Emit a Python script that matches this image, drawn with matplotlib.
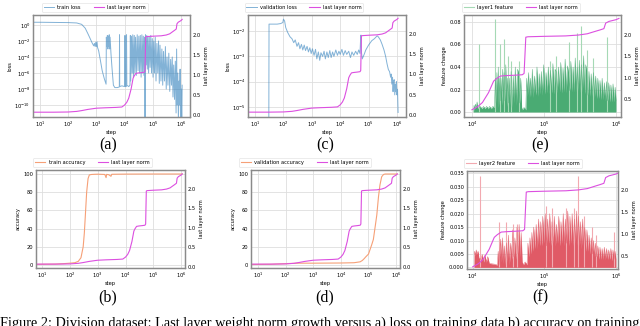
import matplotlib
matplotlib.use("Agg")
import matplotlib.pyplot as plt

# ---- values ----
norm_steps = [5, 10, 30, 100, 200, 300, 500, 1000, 2000, 5000, 8000, 1.0e4, 1.2e4, 1.4e4,
              1.7e4, 2.0e4, 2.2e4, 2.5e4, 3e4, 4e4, 5e4, 5.3e4, 5.6e4, 6e4, 1e5, 2e5, 3e5,
              4e5, 5e5, 6e5, 6.8e5, 7.2e5, 8e5, 1e6, 1.1e6]
norm_vals = [0.07, 0.07, 0.07, 0.075, 0.09, 0.11, 0.14, 0.17, 0.18, 0.19, 0.2, 0.25, 0.32, 0.42,
             0.65, 0.92, 0.98, 1.04, 1.05, 1.06, 1.07, 1.1, 1.95, 1.96, 1.97, 1.98, 2.0,
             2.03, 2.08, 2.12, 2.15, 2.28, 2.32, 2.36, 2.39]

train_loss_steps = [5, 10, 30, 100, 200, 300, 400, 500, 600, 700, 800, 850, 900, 950, 1000,
                    1050, 1100, 1200, 1400, 1600, 1900, 2200, 2250, 2350, 2450, 2550, 2650,
                    2750, 2850, 2950, 3050, 3300, 3600, 4000, 4500, 5500, 6500, 6600, 6700,
                    8000, 10000, 10300, 10600, 11500, 11700, 12000, 14000, 15500, 16000,
                    16500, 17500, 18500, 19500, 20500, 22000, 23000, 24500, 26000, 28000,
                    30000, 32000, 34000, 36000, 38500, 41000, 43500, 46000, 48500, 51000,
                    53000, 55000, 58000, 61000, 64000, 67000, 71000, 75000, 80000, 85000,
                    90000, 96000, 1.02e5, 1.08e5, 1.15e5, 1.22e5, 1.3e5, 1.4e5, 1.5e5,
                    1.6e5, 1.7e5, 1.8e5, 1.95e5, 2.1e5, 2.25e5, 2.4e5, 2.6e5, 2.8e5, 3.0e5,
                    3.2e5, 3.45e5, 3.7e5, 4.0e5, 4.3e5, 4.6e5, 4.9e5, 5.2e5, 5.5e5, 5.9e5,
                    6.3e5, 6.7e5, 7.0e5, 7.3e5, 7.7e5, 8.1e5, 8.5e5, 8.9e5, 9.3e5, 9.7e5,
                    1.02e6, 1.07e6, 1.1e6]
train_loss = [2.2, 2.2, 2.1, 2.0, 1.8, 1.2, 0.4, 0.08, 0.02, 6e-3, 2.5e-3, 5e-3, 2e-3, 7e-3, 2e-3,
              8e-3, 1.5e-3, 6e-4, 3e-5, 2e-6, 2e-7, 4e-8, 3e-2, 2e-3, 5e-2, 1e-3, 4e-2,
              2e-3, 6e-2, 1e-3, 3e-2, 2e-4, 3e-6, 3e-8, 1.5e-8, 1.5e-8, 1.8e-8, 6e-2, 2e-8,
              2.5e-8, 2e-8, 5e-2, 2e-8, 2e-8, 6e-2, 3e-8, 2e-8, 3e-8, 5e-2,
              1e-7, 4e-2, 1e-6, 6e-2, 3e-7, 5e-2, 1e-6, 3e-2, 5e-7, 6e-2,
              2e-6, 4e-2, 1e-6, 5e-2, 3e-7, 6e-2, 1e-6, 4e-2, 5e-7, 3e-2,
              1e-13, 6e-2, 1e-5, 5e-2, 3e-6, 4e-2, 1e-6, 3e-2, 5e-6, 5e-2,
              1e-6, 2e-2, 3e-7, 1e-2, 1e-6, 3e-2, 1e-7, 5e-3, 1e-6,
              1e-2, 5e-8, 3e-3, 1e-7, 1e-3, 3e-8, 5e-4, 1e-7, 2e-3, 1e-8,
              1e-4, 3e-8, 3e-4, 5e-9, 5e-5, 3e-8, 1e-4, 1e-9, 1e-5, 5e-10,
              3e-5, 1e-11, 1e-3, 1e-10, 1e-6, 1e-12, 1e-7, 1e-10, 3e-6, 1e-13,
              1e-8, 1e-13, 3e-8]

val_loss_steps = [30, 31, 40, 60, 80, 95, 100, 110, 120, 140, 170, 200, 230, 260, 300, 340, 380,
                  430, 480, 540, 600, 680, 760, 850, 950, 1050, 1200, 1350, 1500, 1700, 1900,
                  2100, 2400, 2700, 3000, 3400, 3800, 4300, 4800, 5400, 6000, 7000, 8000, 9000,
                  1e4, 1.15e4, 1.3e4, 1.5e4, 1.7e4, 2e4, 2.3e4, 2.6e4, 3e4, 3.5e4, 4e4, 4.5e4,
                  5e4, 5.2e4, 5.4e4, 5.6e4, 6e4, 7e4, 8e4, 1e5, 1.3e5, 1.6e5, 2e5, 2.2e5, 2.6e5,
                  3e5, 3.5e5, 4e5, 4.5e5, 5e5, 5.5e5, 6e5, 6.3e5, 6.6e5, 7e5, 7.3e5, 7.6e5, 8e5,
                  8.4e5, 8.8e5, 9.2e5, 9.6e5, 1e6, 1.05e6, 1.1e6]
val_loss = [1e-9, 0.019, 0.019, 0.019, 0.02, 0.022, 0.03, 0.025, 0.014, 0.009, 0.006, 0.005,
            0.0035, 0.0045, 0.0025, 0.0035, 0.002, 0.003, 0.0018, 0.0028, 0.0017, 0.0025,
            0.0015, 0.0022, 0.0013, 0.002, 0.0011, 0.0019, 0.0008, 0.0015, 0.0007, 0.0014,
            0.001, 0.0016, 0.0008, 0.0015, 0.0009, 0.0017, 0.0009, 0.0015, 0.001, 0.0018,
            0.0011, 0.0016, 0.0012, 0.0019, 0.0011, 0.0017, 0.0012, 0.0016, 0.0009, 0.0015,
            0.0011, 0.0016, 0.0012, 0.0018, 0.0013, 0.004, 0.007, 0.0015, 0.0008, 0.0012,
            0.0018, 0.0028, 0.0042, 0.005, 0.0065, 0.006, 0.0045, 0.003, 0.0018, 0.001,
            0.0005, 0.0003, 0.00025, 0.00015, 0.0002, 0.00008, 0.00015, 0.00004, 0.0001,
            0.00012, 0.00003, 0.00008, 0.00004, 0.0001, 0.00003, 0.00005, 0.000006]

train_acc_steps = [5, 10, 30, 60, 100, 150, 200, 250, 300, 330, 360, 400, 450, 500, 600, 800,
                   1000, 1800, 2000, 2100, 2500, 3000, 3200, 1e4, 1e5, 1.1e6]
train_acc = [0.5, 0.8, 1.0, 1.5, 2.0, 2.5, 4, 8, 20, 35, 55, 80, 95, 99, 99.5, 99.7,
             99.8, 99.5, 96, 99.6, 99.2, 97.5, 99.7, 99.9, 100, 100]

val_acc_steps = [5, 30, 100, 300, 1000, 1e4, 3e4, 5e4, 6e4, 7e4, 8e4, 1e5, 1.3e5, 1.5e5,
                 1.8e5, 2e5, 2.3e5, 2.6e5, 3e5, 3.5e5, 4e5, 1.1e6]
val_acc = [0.5, 0.8, 1.5, 2.0, 2.0, 2.2, 2.5, 3.5, 5, 7, 9, 12, 22, 28, 45, 55, 75, 88,
           97, 99.5, 100, 100]

l1_steps = [1.05e4, 1.07e4, 1.09e4, 1.12e4, 1.15e4, 1.18e4, 1.21e4, 1.26e4, 1.3e4, 1.38e4,
            1.45e4, 1.52e4, 1.6e4, 1.68e4, 1.76e4, 1.85e4, 1.95e4, 2.05e4, 2.12e4, 2.17e4,
            2.22e4, 2.27e4, 2.32e4, 2.37e4, 2.42e4, 2.47e4, 2.53e4, 2.6e4, 2.67e4, 2.74e4,
            2.8e4, 2.87e4, 2.95e4, 3.03e4, 3.12e4, 3.2e4, 3.3e4, 3.4e4, 3.5e4, 3.62e4,
            3.75e4, 3.88e4, 4.0e4, 4.15e4, 4.3e4, 4.45e4, 4.6e4, 4.75e4, 4.9e4, 5.0e4,
            5.3e4, 5.6e4, 5.75e4, 5.9e4, 6.1e4, 6.3e4, 6.5e4, 6.7e4, 6.9e4, 7.1e4, 7.4e4,
            7.7e4, 8.0e4, 8.3e4, 8.6e4, 8.9e4, 9.2e4, 9.5e4, 9.9e4, 1.03e5, 1.07e5, 1.11e5,
            1.15e5, 1.19e5, 1.23e5, 1.28e5, 1.33e5, 1.38e5, 1.43e5, 1.48e5, 1.53e5, 1.59e5,
            1.65e5, 1.71e5, 1.77e5, 1.84e5, 1.9e5, 1.97e5, 2.04e5, 2.12e5, 2.2e5, 2.28e5,
            2.36e5, 2.45e5, 2.54e5, 2.63e5, 2.72e5, 2.82e5, 2.9e5, 3.0e5, 3.1e5, 3.2e5,
            3.3e5, 3.42e5, 3.54e5, 3.67e5, 3.8e5, 3.94e5, 4.08e5, 4.22e5, 4.37e5, 4.53e5,
            4.69e5, 4.86e5, 5.03e5, 5.21e5, 5.4e5, 5.59e5, 5.79e5, 6.0e5, 6.21e5, 6.43e5,
            6.66e5, 6.9e5, 7.15e5, 7.4e5, 7.66e5, 7.93e5, 8.21e5, 8.5e5, 8.8e5, 9.1e5,
            9.42e5, 9.75e5, 1.0e6]
l1_vals = [0.0, 0.006, 0.003, 0.007, 0.004, 0.009, 0.003, 0.004, 0.005, 0.003,
           0.005, 0.003, 0.005, 0.003, 0.005, 0.003, 0.005, 0.004, 0.03, 0.008,
           0.035, 0.004, 0.04, 0.006, 0.03, 0.01, 0.03, 0.006, 0.038, 0.008,
           0.035, 0.01, 0.042, 0.005, 0.03, 0.008, 0.03, 0.006, 0.036, 0.004,
           0.032, 0.008, 0.04, 0.006, 0.038, 0.035, 0.008, 0.03, 0.004, 0.002,
           0.004, 0.002, 0.03, 0.014, 0.035, 0.013, 0.03, 0.014, 0.038, 0.013, 0.032,
           0.015, 0.04, 0.014, 0.034, 0.016, 0.036, 0.015, 0.042, 0.016, 0.035, 0.017,
           0.04, 0.016, 0.037, 0.017, 0.043, 0.016, 0.038, 0.036, 0.017, 0.04,
           0.018, 0.044, 0.017, 0.039, 0.018, 0.047, 0.017, 0.041, 0.035, 0.019,
           0.045, 0.018, 0.04, 0.018, 0.048, 0.018, 0.04, 0.019, 0.046, 0.017,
           0.042, 0.018, 0.05, 0.016, 0.042, 0.036, 0.015, 0.036, 0.014, 0.034,
           0.014, 0.035, 0.013, 0.032, 0.012, 0.03, 0.012, 0.028, 0.011, 0.03,
           0.011, 0.026, 0.01, 0.027, 0.01, 0.026, 0.009, 0.024, 0.009, 0.025,
           0.009, 0.022, 0.01]
l1_spike_steps = [1.25e4, 2.12e4, 2.42e4, 2.8e4, 3.12e4, 3.5e4, 4.45e4, 1.2e5, 1.48e5, 2.2e5,
                  2.9e5, 3.3e5, 3.94e5, 4.86e5, 7.4e5]
l1_spikes = [0.06, 0.083, 0.06, 0.065, 0.05, 0.045, 0.045, 0.045, 0.05, 0.062,
             0.07, 0.076, 0.055, 0.048, 0.067]

l2_steps = [1.05e4, 1.06e4, 1.09e4, 1.12e4, 1.15e4, 1.19e4, 1.22e4, 1.3e4, 1.36e4, 1.42e4,
            1.48e4, 1.55e4, 1.62e4, 1.7e4, 1.8e4, 2.0e4, 2.2e4, 2.27e4, 2.33e4, 2.45e4,
            2.52e4, 2.6e4, 2.68e4, 2.76e4, 2.85e4, 2.95e4, 3.05e4, 3.15e4, 3.25e4, 3.38e4,
            3.5e4, 3.62e4, 3.75e4, 3.88e4, 4.0e4, 4.15e4, 4.3e4, 4.45e4, 4.6e4, 4.75e4,
            4.9e4, 5.1e4, 5.4e4, 5.75e4, 5.9e4, 6.1e4, 6.3e4, 6.5e4, 6.7e4, 6.9e4, 7.1e4,
            7.4e4, 7.7e4, 8.0e4, 8.3e4, 8.6e4, 8.9e4, 9.2e4, 9.5e4, 9.9e4, 1.03e5, 1.07e5,
            1.11e5, 1.15e5, 1.19e5, 1.23e5, 1.28e5, 1.33e5, 1.38e5, 1.43e5, 1.48e5, 1.53e5,
            1.59e5, 1.65e5, 1.71e5, 1.77e5, 1.84e5, 1.9e5, 1.97e5, 2.04e5, 2.12e5, 2.2e5,
            2.28e5, 2.36e5, 2.45e5, 2.54e5, 2.63e5, 2.72e5, 2.82e5, 2.9e5, 3.0e5, 3.1e5,
            3.2e5, 3.3e5, 3.42e5, 3.54e5, 3.67e5, 3.8e5, 3.94e5, 4.08e5, 4.22e5, 4.37e5,
            4.53e5, 4.69e5, 4.86e5, 5.03e5, 5.21e5, 5.4e5, 5.59e5, 5.79e5, 6.0e5, 6.21e5,
            6.43e5, 6.66e5, 6.9e5, 7.15e5, 7.4e5, 7.66e5, 7.93e5, 8.21e5, 8.5e5, 8.8e5,
            9.1e5, 9.42e5, 9.75e5, 1.0e6]
l2_vals = [0.0, 0.006, 0.0045, 0.0065, 0.005, 0.006, 0.0035, 0.003, 0.0048, 0.002,
           0.0045, 0.002, 0.004, 0.0015, 0.0014, 0.0012, 0.0009, 0.006, 0.001, 0.0105,
           0.002, 0.011, 0.0015, 0.008, 0.001, 0.009, 0.002, 0.012, 0.001, 0.009,
           0.003, 0.014, 0.004, 0.011, 0.003, 0.015, 0.005, 0.016, 0.004, 0.013,
           0.002, 0.001, 0.002, 0.001, 0.009, 0.004, 0.011, 0.005, 0.013, 0.006, 0.015,
           0.007, 0.016, 0.007, 0.018, 0.008, 0.017, 0.008, 0.019, 0.009, 0.02, 0.008,
           0.018, 0.009, 0.02, 0.008, 0.017, 0.009, 0.019, 0.008, 0.016, 0.009,
           0.019, 0.008, 0.017, 0.009, 0.02, 0.008, 0.018, 0.009, 0.021, 0.008,
           0.019, 0.009, 0.02, 0.008, 0.018, 0.009, 0.021, 0.008, 0.019, 0.008,
           0.017, 0.007, 0.018, 0.007, 0.015, 0.006, 0.014, 0.006, 0.012, 0.005,
           0.011, 0.005, 0.01, 0.004, 0.009, 0.004, 0.008, 0.003, 0.0075, 0.003,
           0.007, 0.003, 0.0075, 0.003, 0.007, 0.003, 0.0065, 0.003, 0.007, 0.0025,
           0.0065, 0.003, 0.006, 0.003]
l2_spike_steps = [1.25e4, 2.3e4, 2.9e4, 3.6e4, 4.1e4, 1.05e5, 1.3e5, 2e5, 2.6e5, 3e5,
                  3.6e5, 4.6e5, 5.2e5, 9.5e5]
l2_spikes = [0.034, 0.017, 0.017, 0.016, 0.016, 0.023, 0.022, 0.022, 0.022, 0.034,
             0.019, 0.015, 0.012, 0.013]

caption = ("Figure 2: Division dataset: Last layer weight norm growth versus a) loss on "
           "training data b) accuracy on training")

BLUE = "#2f7fbc"
MAG = "#dc4fe0"
ORANGE = "#f6a077"
GREEN = "#4aab73"
GREEN_L = "#a5d9b5"
RED = "#e05a66"
RED_L = "#f2a9b0"
FS = 3.7

W, H = 640, 326
plt.rcParams["font.family"] = "DejaVu Sans"
plt.rcParams["font.size"] = FS
fig = plt.figure(figsize=(W / 100, H / 100), dpi=100)


def px_axes(x0, y0, x1, y1):
    return fig.add_axes([x0 / W, 1 - y1 / H, (x1 - x0) / W, (y1 - y0) / H])


def style(ax):
    ax.grid(True, color="#dedede", lw=0.6)
    ax.set_axisbelow(True)
    for s in ax.spines.values():
        s.set_color("#8a8a8a")
        s.set_linewidth(0.9)
    ax.tick_params(length=0, pad=2, labelsize=FS)


def add_norm(ax, steps, vals, ylim, yticks):
    ax2 = ax.twinx()
    ax2.plot(steps, vals, color=MAG, lw=0.8, label="last layer norm")
    ax2.set_ylim(*ylim)
    ax2.set_yticks(yticks)
    ax2.set_ylabel("last layer norm", fontsize=FS, labelpad=2)
    ax2.grid(False)
    for s in ax2.spines.values():
        s.set_color("#8a8a8a")
        s.set_linewidth(0.9)
    ax2.tick_params(length=0, pad=2, labelsize=FS)
    return ax2


def add_legend(ax, ax2, xc):
    h1, l1 = ax.get_legend_handles_labels()
    h2, l2 = ax2.get_legend_handles_labels()
    leg = ax2.legend(h1 + h2, l1 + l2, loc="lower center", bbox_to_anchor=(xc, 1.03),
                     ncol=2, fontsize=FS, frameon=True, handlelength=2.0, columnspacing=2.5,
                     borderpad=0.35, handletextpad=0.6, borderaxespad=0)
    leg.get_frame().set_edgecolor("#dddddd")
    leg.get_frame().set_linewidth(0.5)


# (a) train loss
ax = px_axes(33, 15, 190, 117)
style(ax)
ax.plot(train_loss_steps, train_loss, color=BLUE, alpha=0.6, lw=0.7, label="train loss")
ax.set_xscale("log")
ax.set_yscale("log")
ax.set_xlim(10 ** 0.75, 10 ** 6.32)
ax.set_ylim(10 ** -11.5, 10 ** 1.25)
ax.set_yticks([1e-10, 1e-8, 1e-6, 1e-4, 1e-2, 1e0])
ax.minorticks_off()
ax.set_xlabel("step", labelpad=1)
ax.set_ylabel("loss", labelpad=1)
ax2 = add_norm(ax, norm_steps, norm_vals, (-0.05, 2.5), [0.0, 0.5, 1.0, 1.5, 2.0])
add_legend(ax, ax2, 0.395)

# (c) validation loss
ax = px_axes(248, 15, 406, 117)
style(ax)
ax.plot(val_loss_steps, val_loss, color=BLUE, alpha=0.6, lw=0.7, label="validation loss")
ax.set_xscale("log")
ax.set_yscale("log")
ax.set_xlim(10 ** 0.75, 10 ** 6.32)
ax.set_ylim(10 ** -5.4, 10 ** -1.36)
ax.set_yticks([1e-5, 1e-4, 1e-3, 1e-2])
ax.minorticks_off()
ax.set_xlabel("step", labelpad=1)
ax.set_ylabel("loss", labelpad=1)
ax2 = add_norm(ax, norm_steps, norm_vals, (-0.05, 2.47), [0.0, 0.5, 1.0, 1.5, 2.0])
add_legend(ax, ax2, 0.354)

# (b) train accuracy
ax = px_axes(36, 170, 185, 268)
style(ax)
ax.plot(train_acc_steps, train_acc, color=ORANGE, lw=0.8, label="train accuracy")
ax.set_xscale("log")
ax.set_xlim(10 ** 0.78, 10 ** 6.14)
ax.set_ylim(-3.3, 104.4)
ax.set_yticks([0, 20, 40, 60, 80, 100])
ax.minorticks_off()
ax.set_xlabel("step", labelpad=1)
ax.set_ylabel("accuracy", labelpad=2)
ax2 = add_norm(ax, norm_steps, norm_vals, (-0.03, 2.49), [0.0, 0.5, 1.0, 1.5, 2.0])
add_legend(ax, ax2, 0.38)

# (d) validation accuracy
ax = px_axes(251, 170, 400, 268)
style(ax)
ax.plot(val_acc_steps, val_acc, color=ORANGE, lw=0.8, label="validation accuracy")
ax.set_xscale("log")
ax.set_xlim(10 ** 0.75, 10 ** 6.14)
ax.set_ylim(-3.3, 104.4)
ax.set_yticks([0, 20, 40, 60, 80, 100])
ax.minorticks_off()
ax.set_xlabel("step", labelpad=1)
ax.set_ylabel("accuracy", labelpad=2)
ax2 = add_norm(ax, norm_steps, norm_vals, (-0.03, 2.49), [0.0, 0.5, 1.0, 1.5, 2.0])
add_legend(ax, ax2, 0.36)

late = [i for i, s in enumerate(norm_steps) if s >= 1e4]
late_steps = [norm_steps[i] for i in late]
late_vals = [norm_vals[i] for i in late]

# (e) layer1 feature change
ax = px_axes(464, 15, 621, 117)
style(ax)
ax.vlines(l1_spike_steps, 0, l1_spikes, color=GREEN_L, lw=0.8)
ax.fill_between(l1_steps, 0, l1_vals, color=GREEN, lw=0)
ax.plot(l1_steps, l1_vals, color=GREEN, lw=0.4, alpha=0.8)
ax.plot([], [], color=GREEN_L, lw=0.8, label="layer1 feature")
ax.set_xscale("log")
ax.set_xlim(10 ** 3.89, 10 ** 6.07)
ax.set_ylim(-0.0044, 0.0862)
ax.set_yticks([0.0, 0.02, 0.04, 0.06, 0.08])
ax.set_yticklabels(["0.00", "0.02", "0.04", "0.06", "0.08"])
ax.minorticks_off()
ax.set_xlabel("step", labelpad=1)
ax.set_ylabel("feature change", labelpad=2)
ax2 = add_norm(ax, late_steps, late_vals, (0.08, 2.47), [0.5, 1.0, 1.5, 2.0])
add_legend(ax, ax2, 0.363)

# (f) layer2 feature change
ax = px_axes(467, 171, 618, 269)
style(ax)
ax.vlines(l2_spike_steps, 0, l2_spikes, color=RED_L, lw=0.8)
ax.fill_between(l2_steps, 0, l2_vals, color=RED, lw=0)
ax.plot(l2_steps, l2_vals, color=RED, lw=0.4, alpha=0.8)
ax.plot([], [], color=RED_L, lw=0.8, label="layer2 feature")
ax.set_xscale("log")
ax.set_xlim(10 ** 3.92, 10 ** 6.03)
ax.set_ylim(-0.0006, 0.0359)
ax.set_yticks([0.0, 0.005, 0.01, 0.015, 0.02, 0.025, 0.03, 0.035])
ax.set_yticklabels(["0.000", "0.005", "0.010", "0.015", "0.020", "0.025", "0.030", "0.035"])
ax.minorticks_off()
ax.set_xlabel("step", labelpad=1)
ax.set_ylabel("feature change", labelpad=2)
ax2 = add_norm(ax, late_steps, late_vals, (0.2, 2.43), [0.5, 1.0, 1.5, 2.0])
add_legend(ax, ax2, 0.37)

# sub-captions and figure caption (the caption runs off the bottom, as in the source)
serif = "Liberation Serif"
for lab, x, y in [("(a)", 108, 145), ("(c)", 325, 145), ("(e)", 540, 145),
                  ("(b)", 108, 297), ("(d)", 325, 297), ("(f)", 540, 297)]:
    fig.text(x / W, 1 - y / H, lab, ha="center", va="center", fontsize=11.5, family=serif)
fig.text(0.0, 1 - 317 / H, caption, ha="left", va="top", fontsize=10.3, family=serif)

fig.savefig("out.png", dpi=100)
